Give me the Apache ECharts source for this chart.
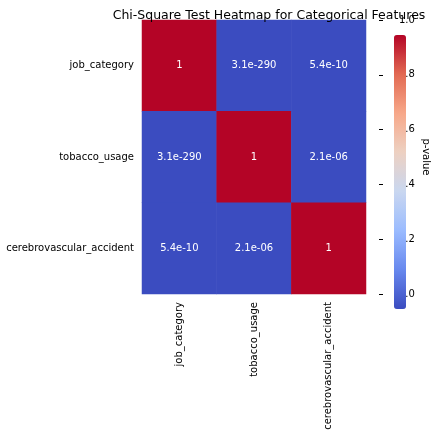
<!DOCTYPE html>
<html>
<head>
<meta charset="UTF-8">
<script src="https://cdn.jsdelivr.net/npm/echarts@6/dist/echarts.min.js"></script>
</head>
<body style="margin:0">
<div id="main" style="width:436px;height:436px"></div>
<script>
var features = ['job_category', 'tobacco_usage', 'cerebrovascular_accident'];
// p-values, row by row
var pValues = [
  [1, 3.1e-290, 5.4e-10],
  [3.1e-290, 1, 2.1e-06],
  [5.4e-10, 2.1e-06, 1]
];
var pLabels = [
  ['1', '3.1e-290', '5.4e-10'],
  ['3.1e-290', '1', '2.1e-06'],
  ['5.4e-10', '2.1e-06', '1']
];
var colorTicks = [0, 0.2, 0.4, 0.6, 0.8, 1.0];

var data = [];
for (var r = 0; r < features.length; r++) {
  for (var c = 0; c < features.length; c++) {
    data.push({value: [c, r, pValues[r][c]], label: pLabels[r][c]});
  }
}

var chart = echarts.init(document.getElementById('main'));
chart.setOption({
  animation: false,
  textStyle: {fontFamily: 'DejaVu Sans'},
  title: {
    text: 'Chi-Square Test Heatmap for Categorical Features',
    left: 264, top: 4, textAlign: 'center',
    textStyle: {fontSize: 12.5, fontWeight: 'normal', color: '#000'}
  },
  grid: [
    {left: 142, right: 70, top: 20, bottom: 142},
    {left: 379, width: 12, top: 20, bottom: 142}
  ],
  xAxis: [
    {type: 'category', data: features, gridIndex: 0,
     axisLine: {show: false}, axisTick: {length: 4, lineStyle: {color: '#000'}},
     axisLabel: {rotate: 90, color: '#000', fontSize: 10}},
    {type: 'value', gridIndex: 1, show: false}
  ],
  yAxis: [
    {type: 'category', data: features, inverse: true, gridIndex: 0,
     axisLine: {show: false}, axisTick: {length: 4, lineStyle: {color: '#000'}},
     axisLabel: {color: '#000', fontSize: 10}},
    {type: 'value', gridIndex: 1, position: 'right', min: colorTicks[0], max: colorTicks[colorTicks.length - 1], interval: 0.2,
     name: 'p-value', nameLocation: 'middle', nameGap: 30, nameRotate: -90,
     nameTextStyle: {color: '#000', fontSize: 10},
     axisLine: {show: false}, splitLine: {show: false},
     axisTick: {show: true, length: 4, lineStyle: {color: '#000'}},
     axisLabel: {color: '#000', fontSize: 10, formatter: function (v) { return v.toFixed(1); }}}
  ],
  visualMap: {
    min: 0, max: 1, calculable: false, seriesIndex: 0,
    left: 379, top: 20, itemWidth: 12, itemHeight: 274, text: null, showLabel: false,
    inRange: {color: ['#3b4cc0', '#6788ee', '#9abbff', '#c9d7f0', '#edd1c2', '#f7a889', '#e26952', '#b40426']}
  },
  series: [{
    type: 'heatmap', data: data,
    label: {show: true, color: '#fff', fontSize: 10, formatter: function (p) { return p.data.label; }}
  }]
});
</script>
</body>
</html>
